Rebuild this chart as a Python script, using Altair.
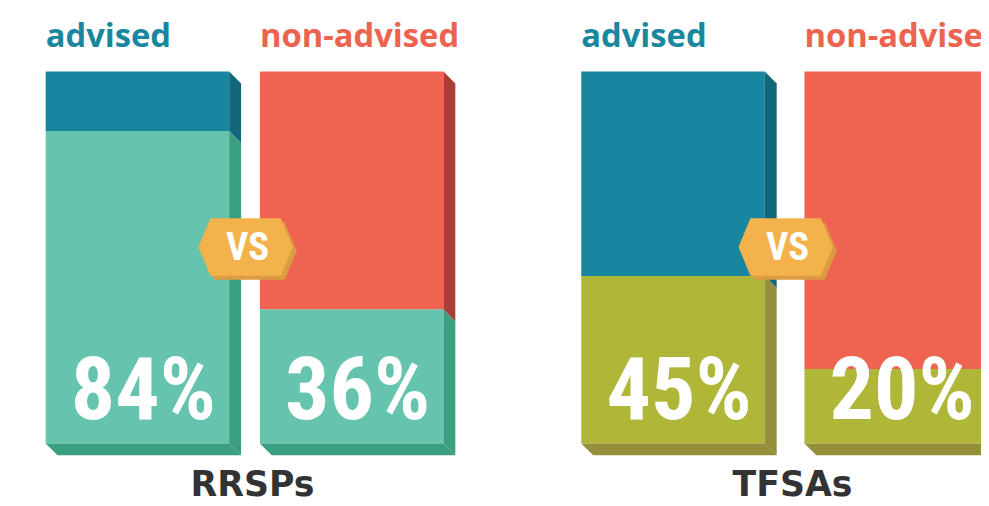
import glob
import os

import altair as alt
import pandas as pd

# ---- data ----
panels = ["RRSPs", "TFSAs"]
groups = ["advised", "non-advised"]
rrsp_pct = [84, 36]
tfsa_pct = [45, 20]
pct_by_panel = {"RRSPs": rrsp_pct, "TFSAs": tfsa_pct}

# ---- styles ----
front_top = {"advised": "#17869E", "non-advised": "#EF6450"}
side_top = {"advised": "#12667A", "non-advised": "#A83F36"}
fill_front = {"RRSPs": "#65C3AE", "TFSAs": "#B0B638"}
fill_side = {"RRSPs": "#3A9E80", "TFSAs": "#958F3B"}
header_color = {"advised": "#1B879F", "non-advised": "#EC6350"}
VS_COLOR, VS_SHADOW = "#F3B24C", "#DD9C42"
TITLE_COLOR = "#333333"

# ---- pick the narrowest condensed font that is installed ----
files = []
for root in ["/usr/share/fonts", "/usr/local/share/fonts", os.path.expanduser("~/.fonts"),
             os.path.expanduser("~/.local/share/fonts")]:
    files += [os.path.basename(f).lower().replace(" ", "") for f in glob.glob(root + "/**/*", recursive=True)]
candidates = [  # (file key, family, em width of "84%", em width of "VS", max width px)
    ("notosans-extracondensedbold", "Noto Sans ExtraCondensed", 1.46, 1.05, 142),
    ("robotocondensed-bold", "Roboto Condensed", 1.6, 1.15, 142),
    ("liberationsansnarrow-bold", "Liberation Sans Narrow", 1.64, 1.33, 142),
    ("notosans-condensedbold", "Noto Sans Condensed", 1.74, 1.2, 142),
]
COND_FONT, PCT_EM, VS_EM, MAXW = "DejaVu Sans Condensed", 2.15, 1.35, 150
for key, fam, em, vem, mw in candidates:
    if any(f.startswith(key) for f in files):
        COND_FONT, PCT_EM, VS_EM, MAXW = fam, em, vem, mw
        break
PCT_SIZE = min(98, MAXW / PCT_EM)
VS_SIZE = min(39, 45 / VS_EM)

# ---- layout (pixels) ----
W, H = 981, 492
panel_left = {"RRSPs": 38, "TFSAs": 578}
pair_step = {"RRSPs": 216, "TFSAs": 225}
BAR_W, DEPTH = 185, 12
PX_PER_PCT, BASE_Y = 3.75, 437
DY = DEPTH / PX_PER_PCT
y_dom = [(BASE_Y - H) / PX_PER_PCT, BASE_Y / PX_PER_PCT]
VS_Y = (BASE_Y - 239) / PX_PER_PCT
HEX_HW, HEX_IN, HEX_HH = 47.5, 12, 29 / PX_PER_PCT

xs = alt.Scale(domain=[0, W], nice=False, zero=False)
ys = alt.Scale(domain=y_dom, nice=False, zero=False)

polys, heads, pcts, vs_rows, hex_rows, titles = [], [], [], [], [], []
pid = 0


def add(points, color):
    global pid
    for (x, y, y2) in points:
        polys.append({"poly": f"p{pid}", "x": x, "y": y, "y2": y2, "c": color})
    pid += 1


for p in panels:
    lefts = []
    for gi, g in enumerate(groups):
        v = pct_by_panel[p][gi]
        xl = panel_left[p] + gi * pair_step[p]
        xr = xl + BAR_W
        lefts.append((xl, xr))
        add([(xl, 100, v), (xr, 100, v)], front_top[g])
        add([(xl, v, 0), (xr, v, 0)], fill_front[p])
        add([(xr, 100, v), (xr + DEPTH, 100 - DY, v - DY)], side_top[g])
        add([(xr, v, 0), (xr + DEPTH, v - DY, -DY)], fill_side[p])
        add([(xl, 0, 0), (xl + DEPTH, 0, -DY), (xr, 0, -DY), (xr + DEPTH, -DY, -DY)], fill_side[p])
        heads.append({"x": xl, "t": g, "c": header_color[g]})
        pcts.append({"x": xl + BAR_W / 2 + 6, "t": f"{v}%"})
    xc = (lefts[0][1] + lefts[1][0]) / 2 + 1
    for dx, dyp, col in [(4, 4, VS_SHADOW), (0, 0, VS_COLOR)]:
        cx, cy = xc + dx, VS_Y - dyp / PX_PER_PCT
        pts = [(cx - HEX_HW, cy, cy), (cx - HEX_HW + HEX_IN, cy + HEX_HH, cy - HEX_HH),
               (cx + HEX_HW - HEX_IN, cy + HEX_HH, cy - HEX_HH), (cx + HEX_HW, cy, cy)]
        for (x, y, y2) in pts:
            hex_rows.append({"poly": f"{p}-{col}", "x": x, "y": y, "y2": y2, "c": col,
                             "z": 0 if col == VS_SHADOW else 1})
    vs_rows.append({"x": xc + 2, "t": "VS"})
    titles.append({"x": (lefts[0][0] + lefts[1][1] + DEPTH) / 2 + 2, "t": p})

poly_df = pd.DataFrame(polys)
hex_df = pd.DataFrame(hex_rows)
shadow_df = hex_df[hex_df.z == 0].reset_index(drop=True)
main_df = hex_df[hex_df.z == 1].reset_index(drop=True)


def area_layer(df):
    return alt.Chart(df).mark_area().encode(
        x=alt.X("x:Q", scale=xs, axis=None),
        y=alt.Y("y:Q", scale=ys, axis=None, stack=None),
        y2="y2:Q",
        color=alt.Color("c:N", scale=None),
        detail="poly:N",
    )


bars = area_layer(poly_df)
hex_shadow = area_layer(shadow_df)
hex_main = area_layer(main_df)

head_txt = alt.Chart(pd.DataFrame(heads)).mark_text(
    align="left", baseline="alphabetic", font="Open Sans", fontWeight="bold", fontSize=33
).encode(x=alt.X("x:Q", scale=xs, axis=None), y=alt.value(37), text="t:N",
         color=alt.Color("c:N", scale=None))

pct_txt = alt.Chart(pd.DataFrame(pcts)).mark_text(
    align="center", baseline="alphabetic", font=COND_FONT,
    fontWeight="bold", fontSize=PCT_SIZE, color="white"
).encode(x=alt.X("x:Q", scale=xs, axis=None), y=alt.value(412), text="t:N")

vs_txt = alt.Chart(pd.DataFrame(vs_rows)).mark_text(
    align="center", baseline="middle", font=COND_FONT,
    fontWeight="bold", fontSize=VS_SIZE, color="white"
).encode(x=alt.X("x:Q", scale=xs, axis=None), y=alt.value(240), text="t:N")

title_txt = alt.Chart(pd.DataFrame(titles)).mark_text(
    align="center", baseline="alphabetic", font="DejaVu Sans", fontWeight="bold", fontSize=35,
    color=TITLE_COLOR
).encode(x=alt.X("x:Q", scale=xs, axis=None), y=alt.value(490), text="t:N")

chart = alt.layer(bars, hex_shadow, hex_main, head_txt, pct_txt, vs_txt, title_txt).properties(
    width=W, height=H, padding=0, background="white",
    autosize=alt.AutoSizeParams(type="none"),
).configure_view(stroke=None)

chart.save("out.html", embed_options={"renderer": "svg", "actions": False})
